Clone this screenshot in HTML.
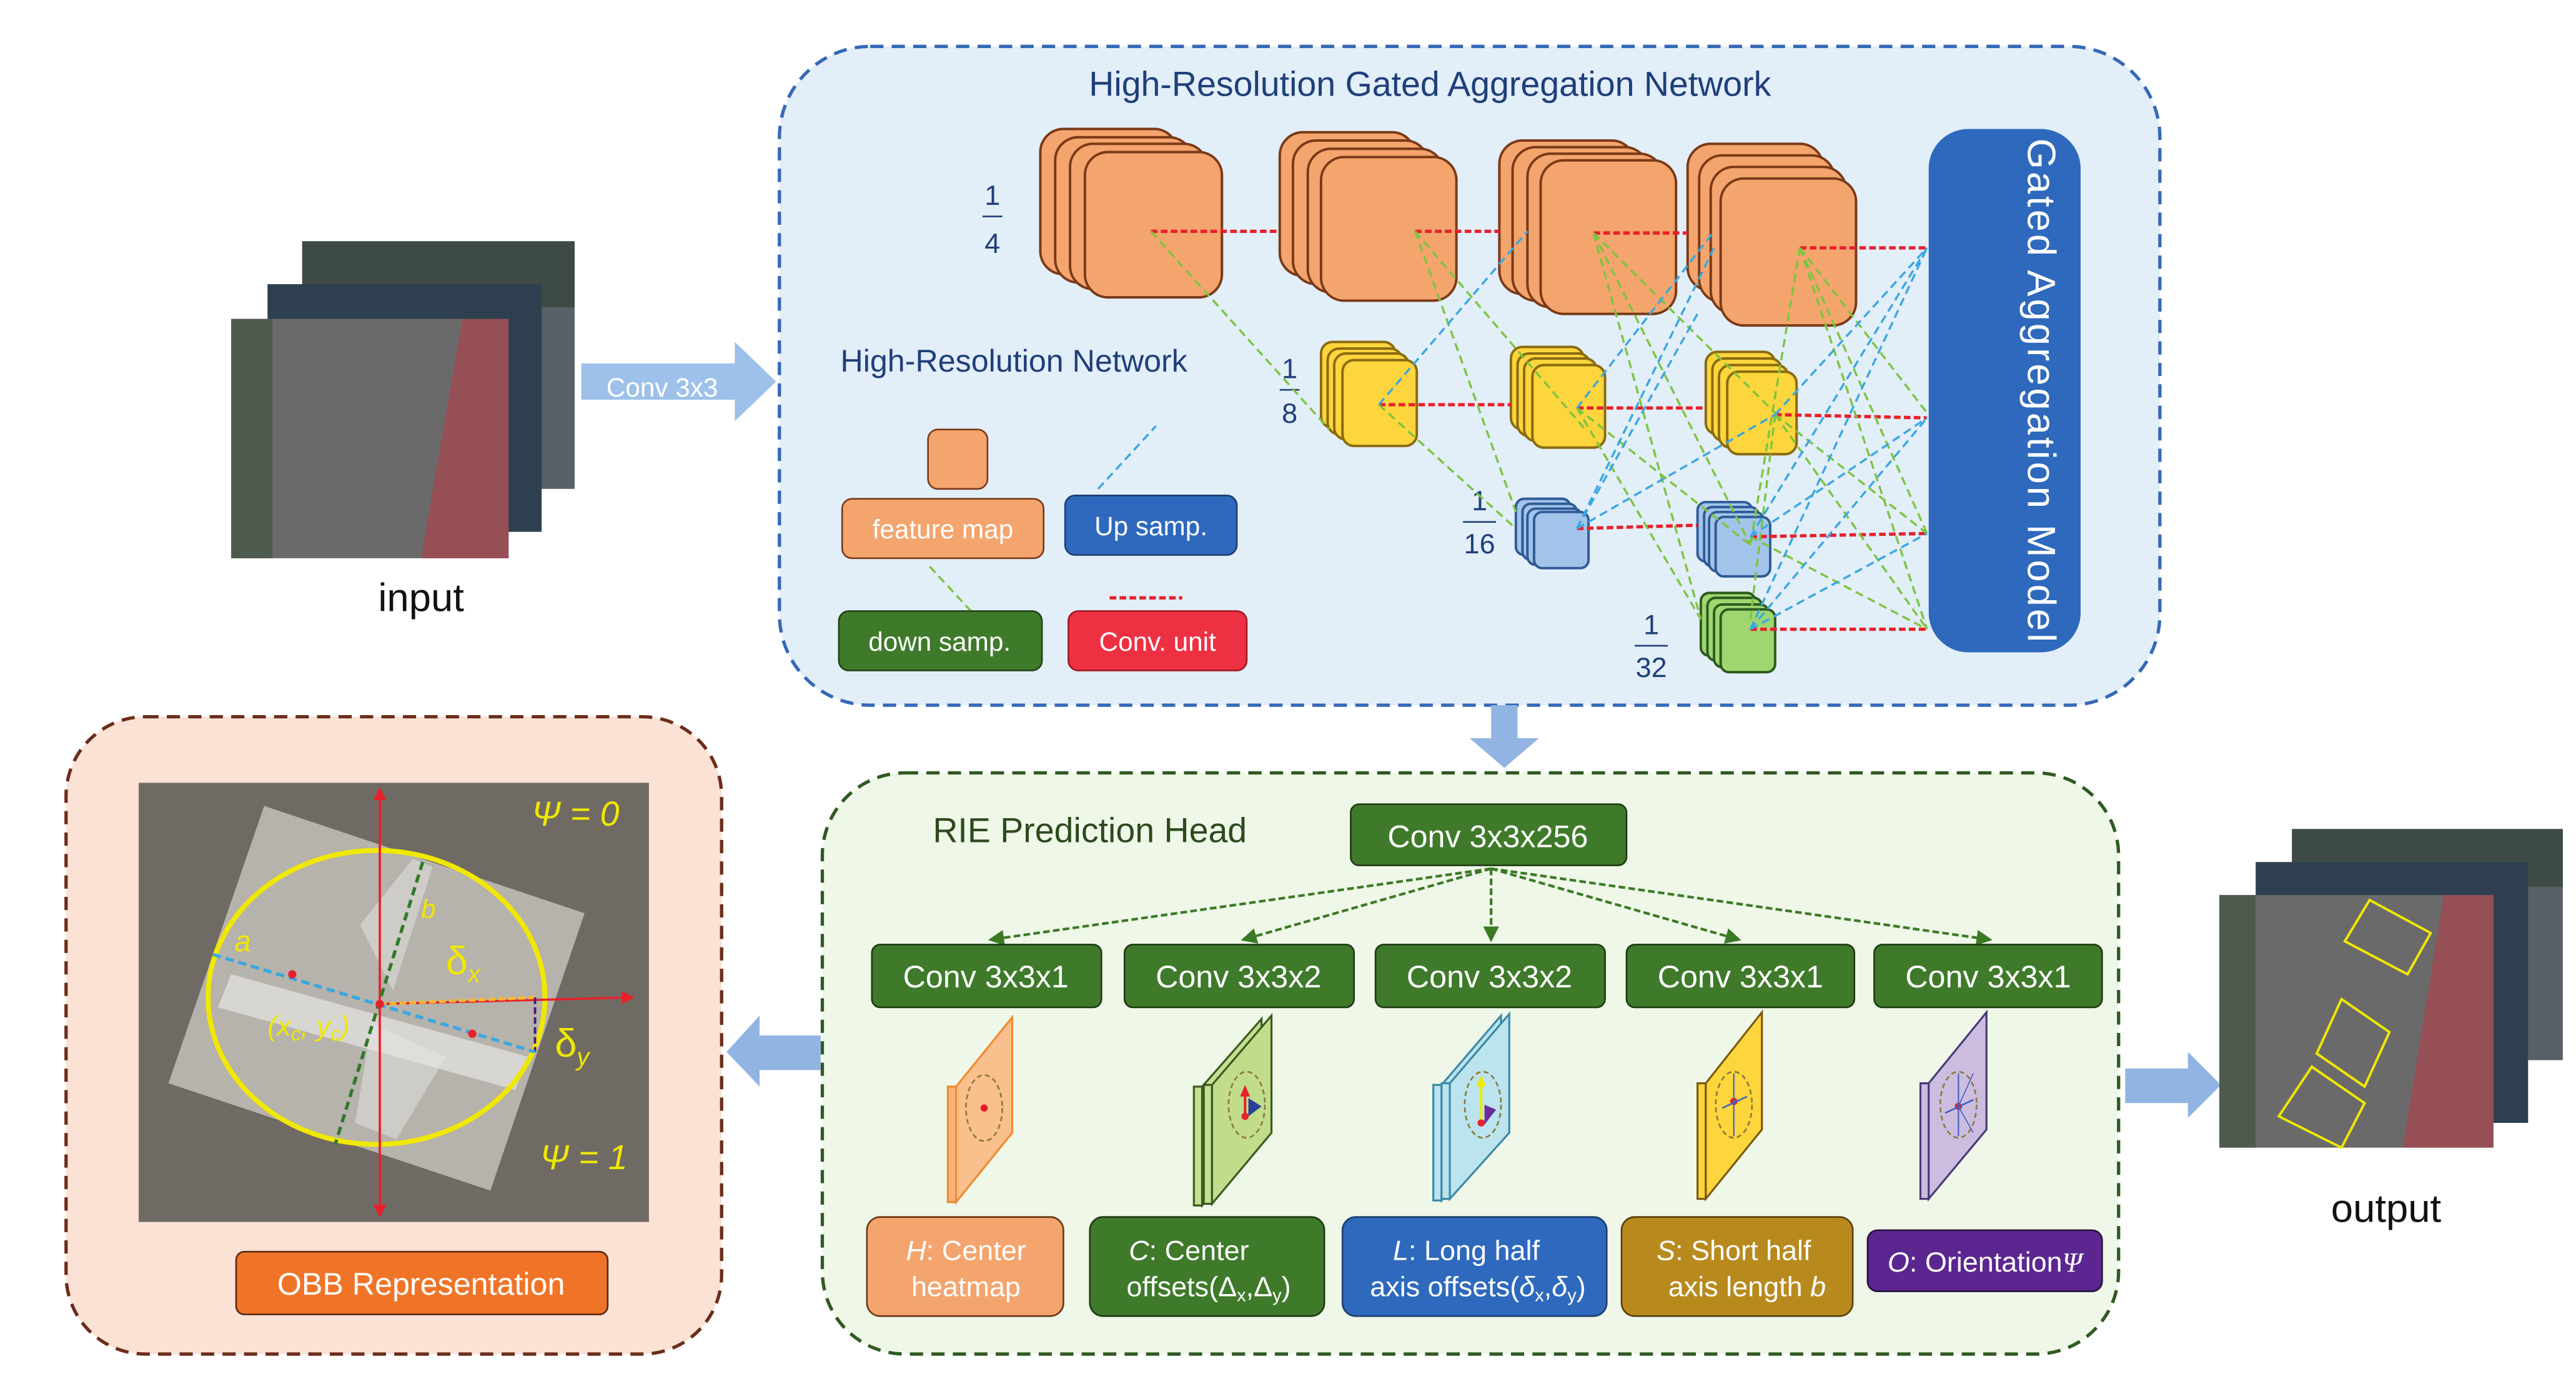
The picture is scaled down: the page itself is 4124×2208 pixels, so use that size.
<!DOCTYPE html>
<html><head><meta charset="utf-8"><style>html,body{margin:0;padding:0;background:#fff}svg{display:block}text{font-family:"Liberation Sans",sans-serif}</style></head><body>
<svg width="4124" height="2208" viewBox="0 0 1560 835" xmlns="http://www.w3.org/2000/svg">
<defs>
<marker id="ga" markerWidth="6" markerHeight="6" refX="5" refY="3" orient="auto"><path d="M0,0 L6,3 L0,6 z" fill="#3b7a25"/></marker>
<marker id="ra" markerWidth="6" markerHeight="6" refX="5" refY="3" orient="auto"><path d="M0,0 L6,3 L0,6 z" fill="#e8202a"/></marker>
</defs>
<!-- top box -->
<rect x="472" y="28" width="836" height="399" rx="55" fill="#e2eef8" stroke="#3568b8" stroke-width="2" stroke-dasharray="8,5"/>
<text x="866" y="58" font-size="21" fill="#1f3f7a" text-anchor="middle">High-Resolution Gated Aggregation Network</text>
<!-- input images -->
<rect x="183" y="146" width="165" height="150" fill="#5a6068"/>
<rect x="183" y="146" width="165" height="40" fill="#3d4a45"/>
<rect x="162" y="172" width="166" height="150" fill="#2e4050"/>
<rect x="140" y="193" width="168" height="145" fill="#6a6a6a"/>
<rect x="140" y="193" width="25" height="145" fill="#4f5a4f"/>
<polygon points="280,193 308,193 308,338 255,338" fill="#a04850" opacity="0.8"/>
<text x="255" y="370" font-size="24" fill="#111" text-anchor="middle">input</text>
<!-- conv arrow -->
<polygon points="352,220 445,220 445,207 470,231 445,255 445,242 352,242" fill="#9dc1ea"/>
<text x="401" y="240" font-size="16" fill="#fff" text-anchor="middle">Conv 3x3</text>
<!-- orange stacks -->
<g fill="#f4a46d" stroke="#7a3a17" stroke-width="1.5">
<rect x="630" y="78" width="83" height="88" rx="14"/><rect x="639" y="83" width="83" height="88" rx="14"/><rect x="648" y="87" width="83" height="88" rx="14"/><rect x="657" y="92" width="83" height="88" rx="14"/>
<rect x="775" y="80" width="82" height="87" rx="14"/><rect x="783" y="85" width="82" height="87" rx="14"/><rect x="792" y="90" width="82" height="87" rx="14"/><rect x="800" y="95" width="82" height="87" rx="14"/>
<rect x="908" y="85" width="82" height="93" rx="14"/><rect x="916" y="89" width="82" height="93" rx="14"/><rect x="925" y="93" width="82" height="93" rx="14"/><rect x="933" y="97" width="82" height="93" rx="14"/>
<rect x="1022" y="87" width="82" height="89" rx="14"/><rect x="1029" y="94" width="82" height="89" rx="14"/><rect x="1036" y="101" width="82" height="89" rx="14"/><rect x="1042" y="108" width="82" height="89" rx="14"/>
</g>
<g fill="#fdd53c" stroke="#8a6b10" stroke-width="1.5">
<rect x="800" y="207" width="45" height="52" rx="7"/><rect x="804" y="211" width="45" height="52" rx="7"/><rect x="808" y="214" width="45" height="52" rx="7"/><rect x="813" y="218" width="45" height="52" rx="7"/>
<rect x="915" y="210" width="44" height="50" rx="7"/><rect x="919" y="214" width="44" height="50" rx="7"/><rect x="923" y="217" width="44" height="50" rx="7"/><rect x="928" y="221" width="44" height="50" rx="7"/>
<rect x="1033" y="213" width="42" height="50" rx="7"/><rect x="1037" y="217" width="42" height="50" rx="7"/><rect x="1041" y="221" width="42" height="50" rx="7"/><rect x="1046" y="225" width="42" height="50" rx="7"/>
</g>
<g fill="#a3c4ea" stroke="#2f5b97" stroke-width="1.5">
<rect x="918" y="302" width="33" height="34" rx="5"/><rect x="922" y="305" width="33" height="34" rx="5"/><rect x="925" y="308" width="33" height="34" rx="5"/><rect x="929" y="310" width="33" height="34" rx="5"/>
<rect x="1028" y="304" width="33" height="36" rx="5"/><rect x="1032" y="307" width="33" height="36" rx="5"/><rect x="1035" y="310" width="33" height="36" rx="5"/><rect x="1039" y="313" width="33" height="36" rx="5"/>
</g>
<g fill="#9fd670" stroke="#2d5a1e" stroke-width="1.5">
<rect x="1030" y="359" width="33" height="38" rx="5"/><rect x="1034" y="362" width="33" height="38" rx="5"/><rect x="1038" y="366" width="33" height="38" rx="5"/><rect x="1042" y="369" width="33" height="38" rx="5"/>
</g>
<!-- fractions -->
<g font-family="Liberation Serif" font-size="17" fill="#1f3f7a" text-anchor="middle">
<text x="601" y="124">1</text><line x1="595" y1="131" x2="607" y2="131" stroke="#1f3f7a"/><text x="601" y="153">4</text>
<text x="781" y="229">1</text><line x1="775" y1="236" x2="787" y2="236" stroke="#1f3f7a"/><text x="781" y="256">8</text>
<text x="896" y="309">1</text><line x1="886" y1="316" x2="906" y2="316" stroke="#1f3f7a"/><text x="896" y="335">16</text>
<text x="1000" y="384">1</text><line x1="990" y1="391" x2="1010" y2="391" stroke="#1f3f7a"/><text x="1000" y="410">32</text>
</g>
<!-- gated -->
<rect x="1168" y="78" width="92" height="317" rx="24" fill="#2e69bd"/>
<text transform="translate(1228,237) rotate(90)" font-size="24" fill="#fff" text-anchor="middle" letter-spacing="1.5">Gated Aggregation Model</text>
<!-- connections -->
<g stroke="#e8202a" stroke-width="2" stroke-dasharray="4,2" fill="none">
<path d="M697,140H775M857,140H908M965,141H1022M1090,150H1167M835,245H915M955,247H1033M1075,251L1167,253M955,320L1028,318M1060,325L1167,323M1060,381H1167"/>
</g>
<g stroke="#7cc540" stroke-width="1.3" stroke-dasharray="5,3" fill="none">
<path d="M697,140L805,260M857,140L918,310M857,140L960,260M965,141L1030,375M965,141L1075,250M965,141L1060,330M835,245L918,320M955,247L1030,375M1090,150L1167,250M1090,150L1167,323M1090,150L1167,381M1075,251L1167,381M1075,251L1060,375M1060,325L1167,381M1090,150L1060,330M955,247L1060,330M1075,251L1167,323"/>
</g>
<g stroke="#3aa7e0" stroke-width="1.3" stroke-dasharray="5,3" fill="none">
<path d="M835,245L925,140M955,247L1038,140M955,320L1028,190M955,320L1075,251M1060,381L1167,150M1060,381L1167,253M1060,381L1167,323M1060,325L1167,150M1075,251L1167,150M1060,325L1167,253M955,320L1038,150"/>
</g>
<!-- legend -->
<text x="614" y="225" font-size="19" fill="#1f3f7a" text-anchor="middle">High-Resolution Network</text>
<rect x="562" y="260" width="36" height="36" rx="6" fill="#f4a46d" stroke="#7a3a17"/>
<rect x="510" y="302" width="122" height="36" rx="6" fill="#f4a46d" stroke="#7a3a17"/>
<text x="571" y="326" font-size="16" fill="#fff" text-anchor="middle">feature map</text>
<rect x="645" y="300" width="104" height="36" rx="6" fill="#2e69bd" stroke="#1d3f70"/>
<text x="697" y="324" font-size="16" fill="#fff" text-anchor="middle">Up samp.</text>
<line x1="665" y1="296" x2="700" y2="258" stroke="#3aa7e0" stroke-width="1.3" stroke-dasharray="5,3"/>
<line x1="563" y1="343" x2="588" y2="370" stroke="#7cc540" stroke-width="1.3" stroke-dasharray="5,3"/>
<rect x="508" y="370" width="123" height="36" rx="6" fill="#3e7a2a" stroke="#23441a"/>
<text x="569" y="394" font-size="16" fill="#fff" text-anchor="middle">down samp.</text>
<line x1="672" y1="362" x2="716" y2="362" stroke="#e8202a" stroke-width="2" stroke-dasharray="4,2"/>
<rect x="647" y="370" width="108" height="36" rx="6" fill="#ee3043" stroke="#a01a25"/>
<text x="701" y="394" font-size="16" fill="#fff" text-anchor="middle">Conv. unit</text>
<!-- down arrow -->
<polygon points="903,427 919,427 919,447 932,447 911,465 890,447 903,447" fill="#92b4e3"/>
<!-- bottom green box -->
<rect x="498" y="468" width="785" height="352" rx="50" fill="#eff7e8" stroke="#2f5a22" stroke-width="2" stroke-dasharray="8,5"/>
<text x="660" y="510" font-size="21" fill="#2d4a1e" text-anchor="middle">RIE Prediction Head</text>
<rect x="818" y="487" width="167" height="37" rx="5" fill="#3e7a2a" stroke="#1f3a12"/>
<text x="901" y="513" font-size="19" fill="#fff" text-anchor="middle">Conv 3x3x256</text>
<g stroke="#3b7a25" stroke-width="1.6" stroke-dasharray="4,2" fill="none" marker-end="url(#ga)">
<line x1="903" y1="526" x2="600" y2="569"/><line x1="903" y1="526" x2="753" y2="569"/><line x1="903" y1="526" x2="903" y2="569"/><line x1="903" y1="526" x2="1053" y2="569"/><line x1="903" y1="526" x2="1205" y2="569"/>
</g>
<g fill="#3e7a2a" stroke="#1f3a12">
<rect x="528" y="572" width="139" height="38" rx="5"/><rect x="681" y="572" width="139" height="38" rx="5"/><rect x="833" y="572" width="139" height="38" rx="5"/><rect x="985" y="572" width="138" height="38" rx="5"/><rect x="1135" y="572" width="138" height="38" rx="5"/>
</g>
<g font-size="19" fill="#fff" text-anchor="middle">
<text x="597" y="598">Conv 3x3x1</text><text x="750" y="598">Conv 3x3x2</text><text x="902" y="598">Conv 3x3x2</text><text x="1054" y="598">Conv 3x3x1</text><text x="1204" y="598">Conv 3x3x1</text>
</g>
<!-- planes -->
<g stroke-width="1.2">
<polygon points="574,658 579,658 579,728 574,728" fill="#f9b27a" stroke="#f08a30"/>
<polygon points="579,658 613,616 613,686 579,728" fill="#f9bf8c" stroke="#f08a30"/>
<polygon points="723,658 728,658 728,730 723,730" fill="#c5df90" stroke="#3b5a1f"/>
<polygon points="728,658 764,617 764,688 728,730" fill="#c5df90" stroke="#3b5a1f"/>
<polygon points="729,657 734,657 734,729 729,729" fill="#c5df90" stroke="#3b5a1f"/>
<polygon points="734,657 770,615 770,686 734,729" fill="#c1dc8b" stroke="#3b5a1f"/>
<polygon points="868,657 873,657 873,727 868,727" fill="#bce4ee" stroke="#3a8aa8"/>
<polygon points="873,657 909,615 909,686 873,727" fill="#bce4ee" stroke="#3a8aa8"/>
<polygon points="873,656 878,656 878,726 873,726" fill="#bce4ee" stroke="#3a8aa8"/>
<polygon points="878,656 914,614 914,686 878,726" fill="#bce4ee" stroke="#3a8aa8"/>
<polygon points="1028,656 1033,656 1033,726 1028,726" fill="#fdd53c" stroke="#7a5a10"/>
<polygon points="1033,656 1067,613 1067,684 1033,726" fill="#fdd53c" stroke="#7a5a10"/>
<polygon points="1163,656 1168,656 1168,726 1163,726" fill="#ccbde0" stroke="#4a3a7a"/>
<polygon points="1168,656 1203,613 1203,684 1168,726" fill="#ccbde0" stroke="#4a3a7a"/>
</g>
<g fill="none" stroke="#8a7a3a" stroke-width="1" stroke-dasharray="3,2">
<ellipse cx="596" cy="671" rx="11" ry="20"/><ellipse cx="755" cy="669" rx="11" ry="20"/><ellipse cx="898" cy="669" rx="11" ry="20"/><ellipse cx="1050" cy="669" rx="11" ry="20"/><ellipse cx="1186" cy="669" rx="11" ry="20"/>
</g>
<g fill="#e8202a"><circle cx="596" cy="671" r="2.2"/><circle cx="754" cy="676" r="2.2"/><circle cx="897" cy="680" r="2.2"/><circle cx="1050" cy="667" r="2.2"/><circle cx="1186" cy="670" r="2.2"/></g>
<line x1="754" y1="676" x2="754" y2="662" stroke="#e8202a" stroke-width="1.5"/><polygon points="751,664 757,664 754,657" fill="#e8202a"/>
<polygon points="756,665 764,670 756,676" fill="#2a3f99"/>
<line x1="897" y1="678" x2="897" y2="656" stroke="#f0e800" stroke-width="1.5"/><polygon points="894,658 900,658 897,651" fill="#f0e800"/>
<polygon points="899,669 906,672 899,681" fill="#6a2a9a"/>
<line x1="1043" y1="671" x2="1058" y2="664" stroke="#4060c0"/><line x1="1050" y1="650" x2="1050" y2="688" stroke="#4060c0" stroke-width="0.8"/>
<line x1="1186" y1="650" x2="1186" y2="688" stroke="#4060c0" stroke-width="0.8"/><line x1="1178" y1="674" x2="1195" y2="666" stroke="#4060c0"/><line x1="1186" y1="670" x2="1195" y2="650" stroke="#4060c0" stroke-width="0.6"/><line x1="1186" y1="670" x2="1195" y2="686" stroke="#4060c0" stroke-width="0.6"/>
<!-- output labels -->
<rect x="525" y="737" width="119" height="60" rx="8" fill="#f4a46d" stroke="#6a3a17"/>
<text x="585" y="763" font-size="17" fill="#fff" text-anchor="middle"><tspan font-style="italic">H</tspan>: Center</text><text x="585" y="785" font-size="17" fill="#fff" text-anchor="middle">heatmap</text>
<rect x="660" y="737" width="142" height="60" rx="8" fill="#3e7a2a" stroke="#1f3a12"/>
<text x="720" y="763" font-size="17" fill="#fff" text-anchor="middle"><tspan font-style="italic">C</tspan>: Center</text><text x="732" y="785" font-size="17" fill="#fff" text-anchor="middle">offsets(Δ<tspan font-size="11" dy="3">x</tspan><tspan dy="-3">,Δ</tspan><tspan font-size="11" dy="3">y</tspan><tspan dy="-3">)</tspan></text>
<rect x="813" y="737" width="160" height="60" rx="8" fill="#2e69bd" stroke="#1d3f70"/>
<text x="888" y="763" font-size="17" fill="#fff" text-anchor="middle"><tspan font-style="italic">L</tspan>:  Long half</text><text x="895" y="785" font-size="17" fill="#fff" text-anchor="middle">axis offsets(<tspan font-style="italic">δ</tspan><tspan font-size="11" dy="3">x</tspan><tspan dy="-3">,</tspan><tspan font-style="italic">δ</tspan><tspan font-size="11" dy="3">y</tspan><tspan dy="-3">)</tspan></text>
<rect x="982" y="737" width="140" height="60" rx="8" fill="#b88a1e" stroke="#5a4010"/>
<text x="1050" y="763" font-size="17" fill="#fff" text-anchor="middle"><tspan font-style="italic">S</tspan>: Short half</text><text x="1058" y="785" font-size="17" fill="#fff" text-anchor="middle">axis length <tspan font-style="italic">b</tspan></text>
<rect x="1131" y="745" width="142" height="37" rx="6" fill="#5c2690" stroke="#2a1040"/>
<text x="1202" y="770" font-size="17" fill="#fff" text-anchor="middle"><tspan font-style="italic">O</tspan>: Orientation<tspan font-style="italic" font-family="Liberation Serif">Ψ</tspan></text>
<!-- left arrow -->
<polygon points="497,627 460,627 460,615 440,637 460,658 460,648 497,648" fill="#92b4e3"/>
<!-- right arrow -->
<polygon points="1287,647 1325,647 1325,637 1345,657 1325,677 1325,668 1287,668" fill="#92b4e3"/>
<!-- left box -->
<rect x="40" y="434" width="397" height="386" rx="48" fill="#fbe2d4" stroke="#6b2d1a" stroke-width="2" stroke-dasharray="8,5"/>
<rect x="84" y="474" width="309" height="266" fill="#706a64"/>
<polygon points="160,488 354,553 297,721 102,656" fill="#bcb8b2" opacity="0.92"/>
<polygon points="140,590 320,640 312,660 132,610" fill="#e6e6e2" opacity="0.7"/>
<polygon points="218,560 250,520 262,525 238,600" fill="#e6e6e2" opacity="0.5"/>
<polygon points="225,620 270,640 240,690 215,680" fill="#e6e6e2" opacity="0.5"/>
<ellipse cx="228" cy="604" rx="102" ry="89" fill="none" stroke="#f0e800" stroke-width="3"/>
<line x1="230" y1="736" x2="230" y2="478" stroke="#e8202a" stroke-width="1.3" marker-end="url(#ra)"/>
<line x1="230" y1="478" x2="230" y2="736" stroke="#e8202a" stroke-width="1.3" marker-end="url(#ra)"/>
<line x1="230" y1="608" x2="383" y2="604" stroke="#e8202a" stroke-width="1.3" marker-end="url(#ra)"/>
<line x1="230" y1="608" x2="324" y2="604" stroke="#f6b830" stroke-width="2" stroke-dasharray="4,2"/>
<line x1="324" y1="604" x2="324" y2="637" stroke="#4a1a7a" stroke-width="1.5" stroke-dasharray="4,2"/>
<line x1="129" y1="578" x2="324" y2="637" stroke="#3aa7e0" stroke-width="2" stroke-dasharray="5,3"/>
<line x1="256" y1="522" x2="203" y2="693" stroke="#2f7a2a" stroke-width="2" stroke-dasharray="5,3"/>
<circle cx="177" cy="590" r="2.5" fill="#e8202a"/><circle cx="286" cy="626" r="2.5" fill="#e8202a"/><circle cx="230" cy="608" r="2.5" fill="#e8202a"/>
<g font-family="Liberation Serif" fill="#f0e800" font-style="italic">
<text x="322" y="500" font-size="21">Ψ = 0</text>
<text x="327" y="708" font-size="21">Ψ = 1</text>
<text x="142" y="576" font-size="18">a</text>
<text x="255" y="556" font-size="16">b</text>
<text x="162" y="627" font-size="17">(x<tspan font-size="12" dy="3">c</tspan><tspan dy="-3">, y</tspan><tspan font-size="12" dy="3">c</tspan><tspan dy="-3">)</tspan></text>
</g>
<text x="270" y="590" font-family="Liberation Serif" font-size="24" fill="#f0e800">δ<tspan font-size="15" dy="5" font-style="italic">x</tspan></text>
<text x="336" y="640" font-family="Liberation Serif" font-size="24" fill="#f0e800">δ<tspan font-size="15" dy="5" font-style="italic">y</tspan></text>
<rect x="143" y="758" width="225" height="38" rx="5" fill="#f07427" stroke="#5a2a10"/>
<text x="255" y="784" font-size="19" fill="#fff" text-anchor="middle">OBB Representation</text>
<!-- output images -->
<rect x="1388" y="502" width="164" height="140" fill="#5a6068"/>
<rect x="1388" y="502" width="164" height="35" fill="#3d4a45"/>
<rect x="1366" y="522" width="165" height="158" fill="#2e4050"/>
<rect x="1344" y="542" width="166" height="153" fill="#6a6a6a"/>
<rect x="1344" y="542" width="22" height="153" fill="#4f5a4f"/>
<polygon points="1480,542 1510,542 1510,695 1455,695" fill="#a04850" opacity="0.8"/>
<g fill="none" stroke="#f0e800" stroke-width="1.5">
<polygon points="1435,545 1472,565 1458,590 1420,570"/>
<polygon points="1418,605 1447,625 1432,658 1403,638"/>
<polygon points="1400,646 1432,668 1418,695 1380,676"/>
</g>
<text x="1445" y="740" font-size="24" fill="#111" text-anchor="middle">output</text>
</svg>
</body></html>
